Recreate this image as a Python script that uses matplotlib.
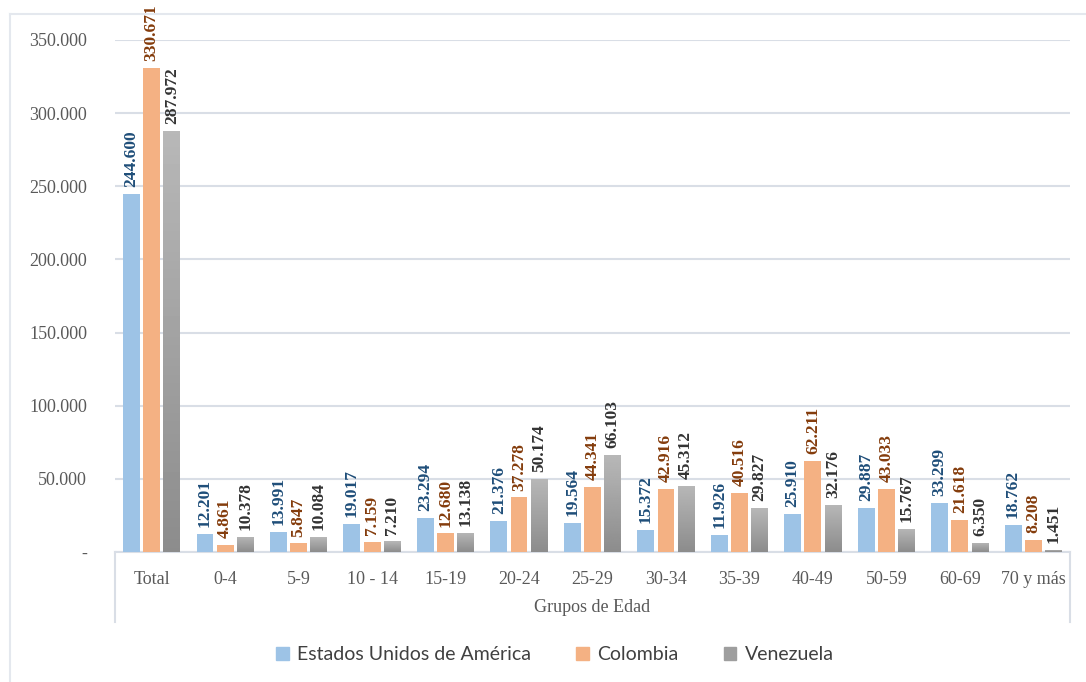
import numpy as np
import matplotlib.pyplot as plt
from matplotlib.lines import Line2D
from matplotlib.patches import Patch

# data
grupos = ['Total', '0-4', '5-9', '10 - 14', '15-19', '20-24', '25-29', '30-34',
          '35-39', '40-49', '50-59', '60-69', '70 y más']
eeuu = [244600, 12201, 13991, 19017, 23294, 21376, 19564, 15372, 11926, 25910, 29887, 33299, 18762]
colombia = [330671, 4861, 5847, 7159, 12680, 37278, 44341, 42916, 40516, 62211, 43033, 21618, 8208]
venezuela = [287972, 10378, 10084, 7210, 13138, 50174, 66103, 45312, 29827, 32176, 15767, 6350, 1451]
series = ['Estados Unidos de América', 'Colombia', 'Venezuela']
yticks = [0, 50000, 100000, 150000, 200000, 250000, 300000, 350000]

bar_colors = ['#9DC3E6', '#F4B183', '#A5A5A5']
text_colors = ['#1F4E79', '#843C0C', '#333333']
tick_color = '#595959'
grid_color = '#D9DEE6'

fig = plt.figure(figsize=(10.86, 6.82), dpi=100)
W, H = 1086, 682
ax = fig.add_axes([115 / W, 1 - 552 / H, (1070 - 115) / W, (552 - 40) / H])

x = np.arange(len(grupos))
w = 0.23
step = 0.275
for i, vals in enumerate([eeuu, colombia, venezuela]):
    pos = x + (i - 1) * step
    bars = ax.bar(pos, vals, width=w, color=bar_colors[i], zorder=3)
    if i == 2:
        # gray bars have a light-to-dark vertical gradient
        grad = np.linspace(0.72, 0.55, 100).reshape(-1, 1)
        for b in bars:
            bx, by = b.get_x(), b.get_y()
            bw, bh = b.get_width(), b.get_height()
            im = ax.imshow(grad, cmap='gray', vmin=0, vmax=1, aspect='auto',
                           extent=[bx, bx + bw, by, by + bh], origin='upper', zorder=3.5)
            im.set_clip_path(b)
    for p, v in zip(pos, vals):
        lab = f'{v:,}'.replace(',', '.')
        ax.annotate(lab, (p, v), xytext=(0, 5), textcoords='offset points',
                    rotation=90, ha='center', va='bottom', fontsize=12.5,
                    fontweight='bold', family='Liberation Serif',
                    color=text_colors[i], annotation_clip=False, zorder=5)

ax.set_xlim(-0.5, len(grupos) - 0.5)
ax.set_ylim(0, 350000)
ax.set_yticks(yticks)
ax.set_yticklabels(['-'] + [f'{t:,}'.replace(',', '.') for t in yticks[1:]],
                   family='Liberation Serif', fontsize=13, color=tick_color)
ax.set_xticks(x)
ax.set_xticklabels(grupos, family='Liberation Serif', fontsize=13, color=tick_color)
ax.tick_params(axis='both', length=0)
ax.tick_params(axis='x', pad=14)
ax.tick_params(axis='y', pad=20)
ax.grid(axis='y', color=grid_color, linewidth=1.5, zorder=0)
for s in ['top', 'right', 'left']:
    ax.spines[s].set_visible(False)
ax.spines['bottom'].set_color(grid_color)
ax.spines['bottom'].set_linewidth(1.5)

# category axis box
for xx in [115, 1070]:
    fig.add_artist(Line2D([xx / W, xx / W], [1 - 552 / H, 1 - 622 / H],
                          color=grid_color, linewidth=1.5))
fig.text((115 + 1070) / 2 / W, 1 - 607 / H, 'Grupos de Edad', ha='center', va='center',
         family='Liberation Serif', fontsize=13, color=tick_color)

# outer border
fig.add_artist(Line2D([10 / W, 10 / W], [0, 1 - 14 / H], color='#E4E8EE', linewidth=1.5))
fig.add_artist(Line2D([10 / W, 1], [1 - 14 / H, 1 - 14 / H], color='#E4E8EE', linewidth=1.5))

handles = [Patch(color=c) for c in ['#9DC3E6', '#F4B183', '#9E9E9E']]
fig.legend(handles, series, loc='center', bbox_to_anchor=(555 / W, 1 - 655 / H), ncol=3,
           frameon=False, prop={'family': 'Lato', 'size': 14}, labelcolor='#404040',
           handlelength=0.65, handleheight=0.65, handletextpad=0.45, columnspacing=2.3)

fig.savefig('out.png', dpi=100)
